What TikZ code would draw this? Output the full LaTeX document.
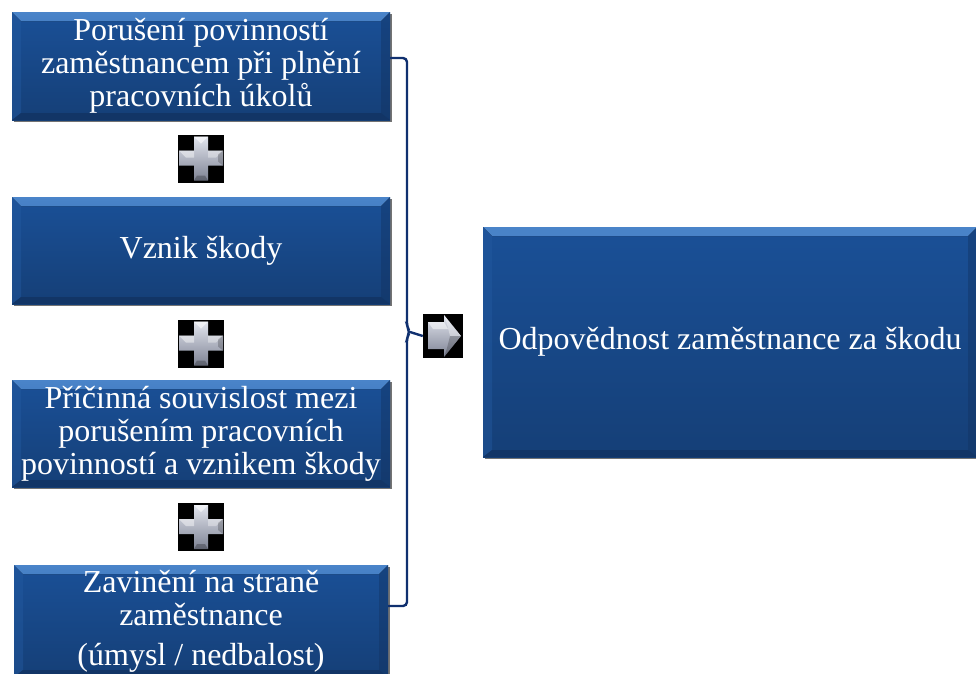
\documentclass[tikz,border=0pt]{standalone}
\usepackage{fontspec}
\setmainfont{Liberation Serif}
\usetikzlibrary{shadows}

\definecolor{boxtop}{HTML}{1A5097}
\definecolor{boxbot}{HTML}{153F77}
\definecolor{bevlight}{HTML}{4A84C9}
\definecolor{bevmid}{HTML}{1F579E}
\definecolor{bevside}{HTML}{245AA0}
\definecolor{bevdark}{HTML}{11315F}
\definecolor{linkcol}{HTML}{10306F}
\definecolor{iconlight}{HTML}{E2E5EE}
\definecolor{icondark}{HTML}{7E8394}

\tikzset{
  x=1pt, y=-1pt,
  bevelbox/.style={
    rectangle, inner sep=0pt, align=center, text=white,
    font=\fontsize{32}{33}\selectfont,
    top color=boxtop, bottom color=boxbot, draw=none,
    drop shadow={shadow xshift=2pt, shadow yshift=-2pt, opacity=0.55, fill=black},
    path picture={
      % top bevel
      \fill[top color=bevlight, bottom color=bevmid]
        (path picture bounding box.north west) -- (path picture bounding box.north east)
        -- ([shift={(-9pt,-9pt)}]path picture bounding box.north east)
        -- ([shift={(9pt,-9pt)}]path picture bounding box.north west) -- cycle;
      % left bevel
      \fill[bevside, opacity=0.45]
        (path picture bounding box.north west) -- ([shift={(9pt,-9pt)}]path picture bounding box.north west)
        -- ([shift={(9pt,7pt)}]path picture bounding box.south west)
        -- (path picture bounding box.south west) -- cycle;
      % right bevel
      \fill[bevdark, opacity=0.4]
        (path picture bounding box.north east) -- ([shift={(-9pt,-9pt)}]path picture bounding box.north east)
        -- ([shift={(-9pt,7pt)}]path picture bounding box.south east)
        -- (path picture bounding box.south east) -- cycle;
      % bottom bevel
      \fill[bevdark, opacity=0.7]
        (path picture bounding box.south west) -- ([shift={(9pt,7pt)}]path picture bounding box.south west)
        -- ([shift={(-9pt,7pt)}]path picture bounding box.south east)
        -- (path picture bounding box.south east) -- cycle;
    }},
  plusicon/.style={
    rectangle, fill=black, inner sep=0pt, minimum width=46pt, minimum height=48pt,
    path picture={
      \coordinate (c) at (path picture bounding box.center);
      \fill[top color=iconlight, bottom color=icondark]
        ([shift={(-7pt,22pt)}]c) -- ([shift={(7pt,22pt)}]c) -- ([shift={(7pt,8pt)}]c)
        -- ([shift={(22pt,8pt)}]c) -- ([shift={(22pt,-7pt)}]c) -- ([shift={(7pt,-7pt)}]c)
        -- ([shift={(7pt,-22pt)}]c) -- ([shift={(-7pt,-22pt)}]c) -- ([shift={(-7pt,-7pt)}]c)
        -- ([shift={(-22pt,-7pt)}]c) -- ([shift={(-22pt,8pt)}]c) -- ([shift={(-7pt,8pt)}]c) -- cycle;
      % facets
      \fill[white, opacity=0.55]
        ([shift={(-7pt,22pt)}]c) -- ([shift={(7pt,22pt)}]c) -- ([shift={(0pt,15pt)}]c) -- cycle;
      \fill[white, opacity=0.45]
        ([shift={(-22pt,8pt)}]c) -- ([shift={(-7pt,8pt)}]c) -- ([shift={(-7pt,1pt)}]c)
        -- ([shift={(-15pt,1pt)}]c) -- cycle;
      \fill[white, opacity=0.35]
        ([shift={(7pt,8pt)}]c) -- ([shift={(22pt,8pt)}]c) -- ([shift={(15pt,1pt)}]c)
        -- ([shift={(7pt,1pt)}]c) -- cycle;
      \fill[black, opacity=0.25]
        ([shift={(-7pt,-22pt)}]c) -- ([shift={(7pt,-22pt)}]c) -- ([shift={(4pt,-17pt)}]c)
        -- ([shift={(-4pt,-17pt)}]c) -- cycle;
      \fill[black, opacity=0.2]
        ([shift={(22pt,8pt)}]c) -- ([shift={(22pt,-7pt)}]c) -- ([shift={(17pt,-3pt)}]c)
        -- ([shift={(17pt,4pt)}]c) -- cycle;
    }},
  arrowicon/.style={
    rectangle, fill=black, inner sep=0pt, minimum width=40pt, minimum height=44pt,
    path picture={
      \coordinate (c) at (path picture bounding box.center);
      \fill[top color=iconlight, bottom color=icondark]
        ([shift={(-15pt,14pt)}]c) -- ([shift={(1pt,14pt)}]c) -- ([shift={(1pt,21pt)}]c)
        -- ([shift={(18pt,0pt)}]c) -- ([shift={(1pt,-21pt)}]c) -- ([shift={(1pt,-13pt)}]c)
        -- ([shift={(-15pt,-13pt)}]c) -- cycle;
      \fill[white, opacity=0.5]
        ([shift={(-15pt,14pt)}]c) -- ([shift={(1pt,14pt)}]c) -- ([shift={(5pt,7pt)}]c)
        -- ([shift={(-10pt,7pt)}]c) -- cycle;
      \fill[white, opacity=0.35]
        ([shift={(1pt,21pt)}]c) -- ([shift={(18pt,0pt)}]c) -- ([shift={(7pt,0pt)}]c)
        -- ([shift={(4pt,12pt)}]c) -- cycle;
      \fill[black, opacity=0.2]
        ([shift={(1pt,-21pt)}]c) -- ([shift={(18pt,0pt)}]c) -- ([shift={(7pt,0pt)}]c)
        -- ([shift={(4pt,-12pt)}]c) -- cycle;
    }},
  link/.style={draw=linkcol, line width=2.4pt, rounded corners=4pt}
}

\begin{document}
\begin{tikzpicture}
\useasboundingbox (0,0) rectangle (976,673);

% condition boxes
\node[bevelbox, minimum width=378pt, minimum height=108pt] (b1) at (201,66)
  {Porušení povinností\\zaměstnancem při plnění\\pracovních úkolů};
\node[bevelbox, minimum width=378pt, minimum height=107pt] (b2) at (201,250.5)
  {Vznik škody};
\node[bevelbox, minimum width=378pt, minimum height=107pt] (b3) at (201,433.5)
  {Příčinná souvislost mezi\\porušením pracovních\\povinností a vznikem škody};
\node[bevelbox, minimum width=374pt, minimum height=112pt] (b4) at (201,621)
  {Zavinění na straně\\zaměstnance\\[7pt](úmysl / nedbalost)};

% result box
\node[bevelbox, minimum width=494pt, minimum height=230pt] (res) at (730,342)
  {Odpovědnost zaměstnance za škodu};

% plus signs between the conditions
\node[plusicon] (p1) at (201,158.5) {};
\node[plusicon] (p2) at (201,343.5) {};
\node[plusicon] (p3) at (201,527) {};

% bracket joining the conditions, leading to the arrow
\coordinate (bt) at (407,58);
\coordinate (bb) at (407,606);
\coordinate (tip) at (410,332);
\node[arrowicon] (arr) at (443,336) {};

\draw[link] ([yshift=8pt]b1.east) -- (bt) -- (407,327) -- (tip) -- (407,337) -- (bb)
  -- ([yshift=15pt]b4.east);
\draw[draw=linkcol, line width=2.4pt] (tip) -- (arr.west);
\node[arrowicon] at (arr) {};
\end{tikzpicture}
\end{document}
